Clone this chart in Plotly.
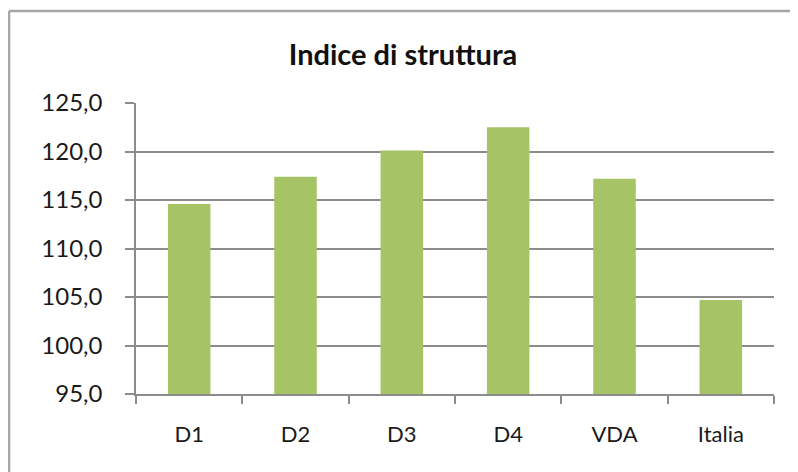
import plotly.graph_objects as go

categories = ["D1", "D2", "D3", "D4", "VDA", "Italia"]
values = [114.6, 117.4, 120.1, 122.5, 117.2, 104.7]
title_text = "Indice di struttura"

grey = "#8c8c8c"
fig = go.Figure(
    go.Bar(x=categories, y=values, marker=dict(color="#a6c466", line=dict(width=0)))
)

fig.update_layout(
    width=790, height=464,
    margin=dict(l=128, r=24, t=95, b=78),
    paper_bgcolor="white", plot_bgcolor="white",
    bargap=0.6,
    separators=",.",
    font=dict(family="Lato", color="#1a1a1a", size=22),
    title=dict(text="<b>" + title_text + "</b>", x=0.5, xanchor="center",
               y=0.899, yanchor="middle", font=dict(family="Lato", size=29, color="#111111")),
    showlegend=False,
)
fig.update_yaxes(
    range=[95, 125], dtick=5, tickformat=".1f",
    showgrid=True, gridcolor=grey, gridwidth=1.5,
    showline=True, linecolor=grey, linewidth=1.5,
    ticks="outside", ticklen=9, tickcolor=grey, tickwidth=1.5,
    ticklabelstandoff=18, zeroline=False,
    tickfont=dict(size=24, family="Lato"),
)
fig.update_xaxes(
    showline=True, linecolor=grey, linewidth=1.5,
    ticks="outside", tickson="boundaries", ticklen=8, tickcolor=grey, tickwidth=1.5,
    ticklabelstandoff=20,
    tickfont=dict(size=22, family="Lato"),
)
# chart frame (top and left edges visible)
fig.add_shape(type="line", xref="paper", yref="paper",
              x0=-0.199, x1=1.06, y0=1.316, y1=1.316,
              line=dict(color="#a6a6a6", width=2.5))
fig.add_shape(type="line", xref="paper", yref="paper",
              x0=-0.199, x1=-0.199, y0=1.316, y1=-0.3,
              line=dict(color="#a6a6a6", width=2.5))

fig.write_html("out.html")
